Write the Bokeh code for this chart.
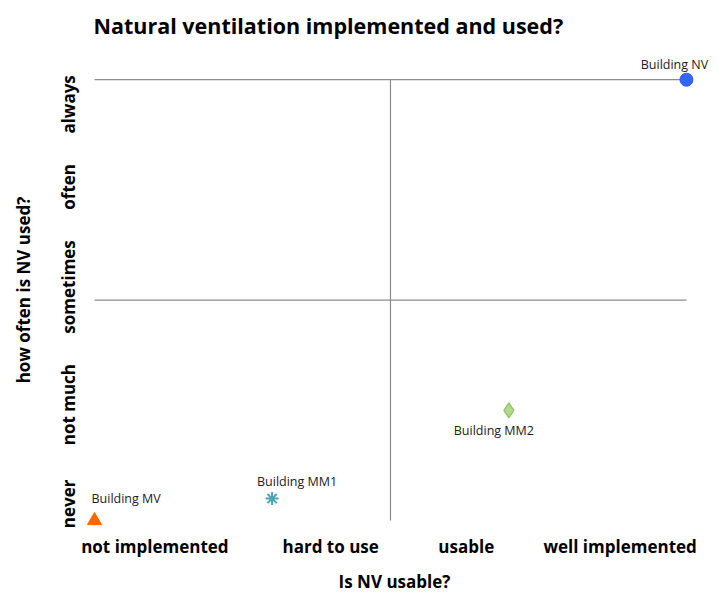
from bokeh.plotting import figure
from bokeh.models import FixedTicker, ColumnDataSource, Range1d
from bokeh.core.properties import value
from bokeh.embed import file_html
from bokeh.resources import INLINE

# ---- data ----
buildings = ["Building NV", "Building MM2", "Building MM1", "Building MV"]
usable = [10.0, 7.0, 3.0, 0.0]          # x: Is NV usable?
used = [10.0, 2.5, 0.5, 0.0]            # y: how often is NV used?

x_tick_pos = [1.02, 3.99, 6.28, 8.88]
x_tick_labels = ["not implemented", "hard to use", "usable", "well implemented"]
y_tick_pos = [9.44, 7.57, 5.30, 2.63, 0.38]
y_tick_labels = ["always", "often", "sometimes", "not much", "never"]

FONT = "Open Sans"

p = figure(width=712, height=595, output_backend="svg", toolbar_location=None,
           x_range=Range1d(-0.304, 10.44), y_range=Range1d(-0.18, 10.64),
           min_border_left=76, min_border_right=0, min_border_top=0, min_border_bottom=0)

p.title.text = "Natural ventilation implemented and used?"
p.title.text_font = FONT
p.title.text_font_size = "21.5px"
p.title.text_font_style = "bold"
p.title.text_color = "#000000"
p.title.offset = 17
p.title.standoff = 20
p.title.vertical_align = "top"

p.xgrid.visible = False
p.ygrid.visible = False
p.outline_line_color = None

for ax in (p.xaxis[0], p.yaxis[0]):
    ax.axis_line_color = None
    ax.major_tick_line_color = None
    ax.minor_tick_line_color = None
    ax.major_tick_out = 0
    ax.major_tick_in = 0
    ax.minor_tick_out = 0
    ax.minor_tick_in = 0
    ax.major_label_text_font = FONT
    ax.major_label_text_font_style = "bold"
    ax.major_label_text_font_size = "17px"
    ax.major_label_text_color = "#000000"
    ax.axis_label_text_font = FONT
    ax.axis_label_text_font_style = "bold"
    ax.axis_label_text_font_size = "17px"
    ax.axis_label_text_color = "#000000"

p.xaxis[0].ticker = FixedTicker(ticks=x_tick_pos)
p.xaxis[0].major_label_overrides = {v: t for v, t in zip(x_tick_pos, x_tick_labels)}
p.xaxis[0].axis_label = "Is NV usable?"
p.xaxis[0].major_label_standoff = 6
p.xaxis[0].axis_label_standoff = 9

p.yaxis[0].ticker = FixedTicker(ticks=y_tick_pos)
p.yaxis[0].major_label_overrides = {v: t for v, t in zip(y_tick_pos, y_tick_labels)}
p.yaxis[0].major_label_orientation = "vertical"
p.yaxis[0].axis_label = "how often is NV used?"
p.yaxis[0].major_label_standoff = -4
p.yaxis[0].axis_label_standoff = 20

# quadrant lines
xmin, xmax = min(usable), max(usable)
ymin, ymax = min(used), max(used)
xmid, ymid = (xmin + xmax) / 2, (ymin + ymax) / 2
line_col = "#8c8c8c"
p.segment(x0=[xmin, xmin, xmid], y0=[ymax, ymid, ymin],
          x1=[xmax, xmax, xmid], y1=[ymax, ymid, ymax],
          line_color=line_col, line_width=1.2)

# markers
p.scatter([usable[0]], [used[0]], marker="circle", size=13,
          fill_color="#3366ff", line_color="#2b5ce6")
p.scatter([usable[1]], [used[1]], marker="diamond", size=15,
          fill_color="#b5d98a", line_color="#8fc066", line_width=1.2)
p.scatter([usable[2]], [used[2]], marker="asterisk", size=13,
          line_color="#4aa3b8", line_width=2)
p.scatter([usable[3]], [used[3]], marker="triangle", size=14,
          fill_color="#ff6600", line_color="#ff6600")

# labels
src = ColumnDataSource(dict(x=usable, y=used, t=buildings,
                            dx=[-12, -15, 25, -3], dy=[-15, 20, -17, -22],
                            al=["center", "center", "center", "left"]))
p.text(x="x", y="y", text="t", x_offset="dx", y_offset="dy", text_align="al",
       text_baseline="middle", text_font=value(FONT), text_font_size="12.5px",
       text_color="#222222", source=src)

open("out.html", "w").write(file_html(p, INLINE))
